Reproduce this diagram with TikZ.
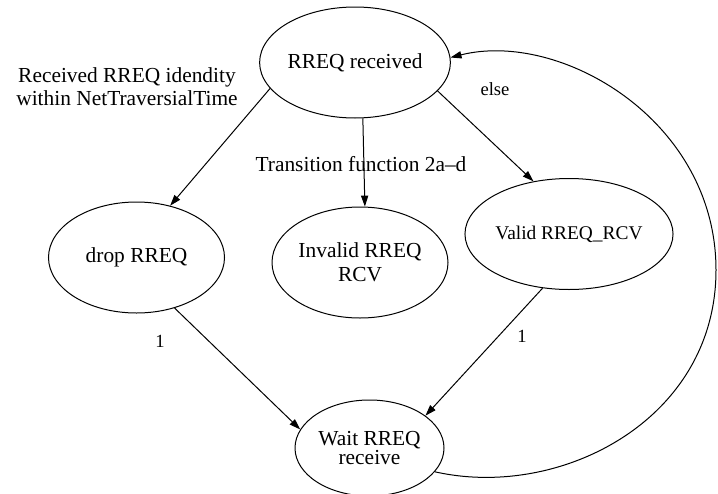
\documentclass[tikz,border=0pt]{standalone}
\usepackage{fontspec}
\setmainfont{Liberation Serif}
\usetikzlibrary{shapes.geometric,arrows.meta}

\begin{document}
\begin{tikzpicture}[x=0.5pt, y=-0.5pt, line width=0.5pt,
  >={Triangle[length=5.5pt,width=3.6pt]},
  state/.style={draw, ellipse, inner sep=0pt, minimum width=88pt,
    minimum height=55.5pt, align=center, font=\fontsize{10.7}{12}\selectfont},
  lbl/.style={font=\fontsize{9.3}{11}\selectfont}]

\useasboundingbox (0,0) rectangle (718,493);

% States
\node[state] (recv)  at (355,62.5)  {RREQ received};
\node[state] (drop)  at (136.5,257.5) {drop RREQ};
\node[state] (inval) at (360,262.5) {Invalid RREQ\\RCV};
\node[state, font=\fontsize{9.7}{11}\selectfont] (valid) at (569,234) {Valid RREQ\_RCV};
\node[state, minimum width=74.5pt, minimum height=48pt,
  font=\fontsize{10.7}{9.5}\selectfont] (wait) at (369.5,448) {Wait RREQ\\receive};

% Transitions
\draw[->] (recv.197.7) -- (drop.57.5);
\draw[->] (recv.278) -- (inval.85);
\draw[->] (recv.341.3) -- (valid.124.9);
\draw[->] (drop.307.3) -- (wait.165.5);
\draw[->] (valid.244.3) -- (wait.30.3);
\draw[->] (wait.340) .. controls (560,500) and (716,420) .. (716,270)
  .. controls (716,120) and (560,30) .. (recv.3);

% Labels
\node[align=center, font=\fontsize{10.7}{11.5}\selectfont] (lrecv) at (127,87)
  {Received RREQ idendity\\within NetTraversialTime};
\node[font=\fontsize{10.7}{12}\selectfont] (ltrans) at (361,164) {Transition function 2a--d};
\node[lbl] (lelse)  at (495,89)  {else};
\node[lbl] (ldrop)  at (160,341) {1};
\node[lbl] (lvalid) at (522,336) {1};

\end{tikzpicture}
\end{document}
